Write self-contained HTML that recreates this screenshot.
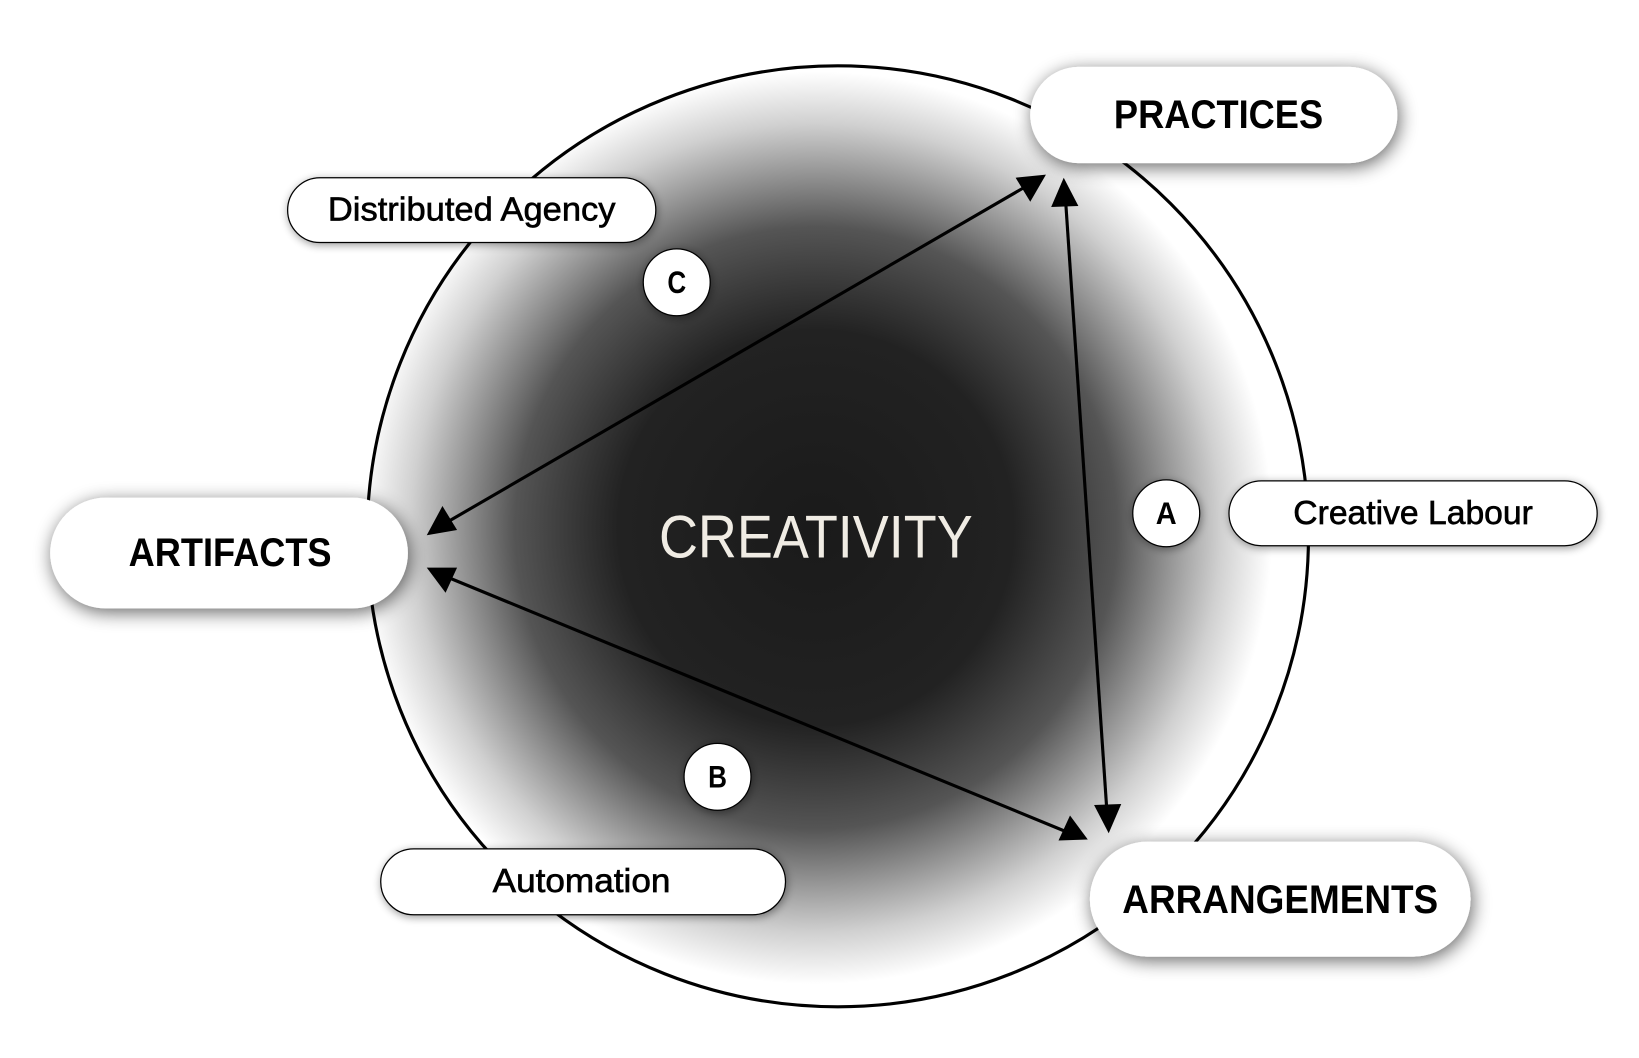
<!DOCTYPE html>
<html><head><meta charset="utf-8"><style>
html,body{margin:0;padding:0;background:#fff;}
svg{display:block;}
text{font-family:"Liberation Sans",sans-serif;text-anchor:middle;dominant-baseline:central;}
</style></head><body>
<svg width="1639" height="1058" viewBox="0 0 1567 1012" preserveAspectRatio="none" xmlns="http://www.w3.org/2000/svg">
<defs>
<radialGradient id="g" cx="780" cy="505" r="450" gradientUnits="userSpaceOnUse">
<stop offset="0" stop-color="#1a1a1a"/>
<stop offset="0.42" stop-color="#222"/>
<stop offset="0.64" stop-color="#555"/>
<stop offset="0.86" stop-color="#d0d0d0"/>
<stop offset="0.97" stop-color="#fff"/>
</radialGradient>
<filter id="sh" x="-30%" y="-50%" width="160%" height="200%">
<feGaussianBlur in="SourceAlpha" stdDeviation="9"/>
<feOffset dx="2" dy="4"/>
<feComponentTransfer><feFuncA type="linear" slope="0.6"/></feComponentTransfer>
<feMerge><feMergeNode/><feMergeNode in="SourceGraphic"/></feMerge>
</filter>
<filter id="sh2" x="-30%" y="-50%" width="160%" height="200%">
<feGaussianBlur in="SourceAlpha" stdDeviation="4"/>
<feOffset dx="1" dy="2"/>
<feComponentTransfer><feFuncA type="linear" slope="0.4"/></feComponentTransfer>
<feMerge><feMergeNode/><feMergeNode in="SourceGraphic"/></feMerge>
</filter>
</defs>
<circle cx="801" cy="513" r="450" fill="url(#g)" stroke="#000" stroke-width="3"/>
<text x="780" y="513" font-size="58" fill="#f0ece4" textLength="300" lengthAdjust="spacingAndGlyphs">CREATIVITY</text>

<g stroke="#000" stroke-width="3" fill="none">
<line x1="430" y1="498" x2="978" y2="180"/>
<line x1="430" y1="553" x2="1018" y2="795"/>
<line x1="1019" y1="195" x2="1058" y2="772"/>
</g>
<g fill="#000">
<polygon points="408,512 423,484 437,507"/>
<polygon points="1000,167 971,170 985,193"/>
<polygon points="408,543 437,543 426,567"/>
<polygon points="1040,803 1023,780 1012,804"/>
<polygon points="1017,170 1005,198 1031,197"/>
<polygon points="1060,797 1046,770 1072,769"/>
</g>

<g filter="url(#sh)" fill="#fff">
<rect x="985" y="64" width="351" height="92" rx="46"/>
<rect x="48" y="476" width="342" height="106" rx="53"/>
<rect x="1042" y="805" width="364" height="110" rx="55"/>
</g>
<g font-weight="bold" fill="#000" font-size="38">
<text x="1165" y="110" textLength="200" lengthAdjust="spacingAndGlyphs">PRACTICES</text>
<text x="220" y="529" textLength="194" lengthAdjust="spacingAndGlyphs">ARTIFACTS</text>
<text x="1224" y="861" textLength="302" lengthAdjust="spacingAndGlyphs">ARRANGEMENTS</text>
</g>

<g filter="url(#sh2)" fill="#fff" stroke="#000" stroke-width="1.2">
<rect x="275" y="170" width="352" height="62" rx="31"/>
<rect x="1175" y="460" width="352" height="62" rx="31"/>
<rect x="364" y="812" width="387" height="63" rx="31.5"/>
<circle cx="647" cy="270" r="32"/>
<circle cx="1115" cy="491" r="32"/>
<circle cx="686" cy="743" r="32"/>
</g>
<g fill="#000" font-size="32" stroke="#000" stroke-width="0.6">
<text x="451" y="201" textLength="275" lengthAdjust="spacingAndGlyphs">Distributed Agency</text>
<text x="1351" y="491" textLength="229" lengthAdjust="spacingAndGlyphs">Creative Labour</text>
<text x="556" y="843" textLength="170" lengthAdjust="spacingAndGlyphs">Automation</text>
</g>
<g fill="#000" font-weight="bold" font-size="30">
<text x="647" y="270" textLength="18" lengthAdjust="spacingAndGlyphs">C</text>
<text x="1115" y="491" textLength="20" lengthAdjust="spacingAndGlyphs">A</text>
<text x="686" y="743" textLength="18" lengthAdjust="spacingAndGlyphs">B</text>
</g>
</svg>
</body></html>
